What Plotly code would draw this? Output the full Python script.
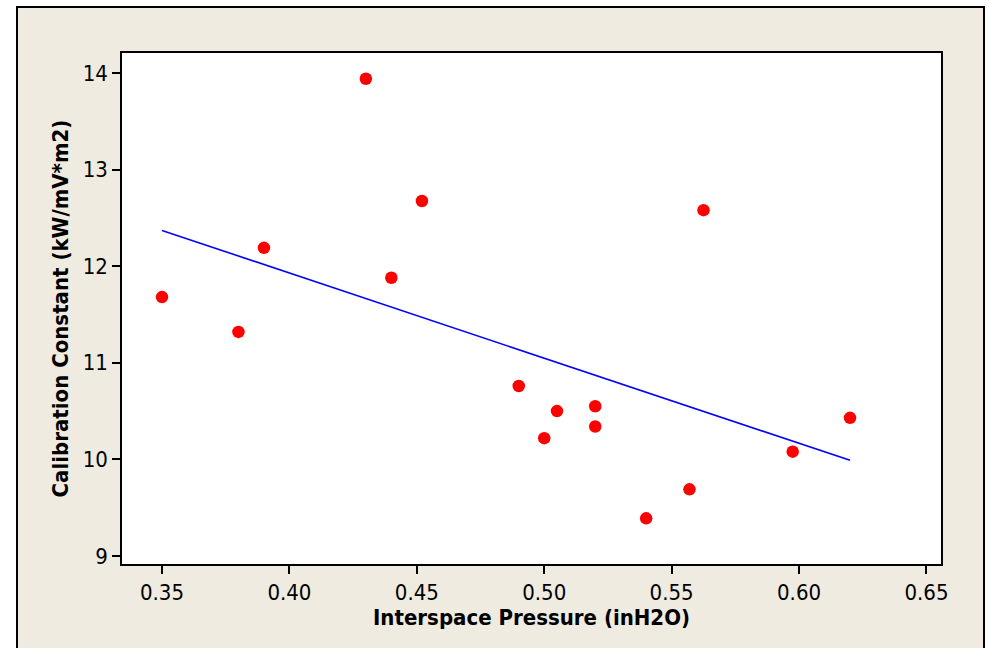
import plotly.graph_objects as go

# Data
pressure = [0.35, 0.38, 0.39, 0.43, 0.44, 0.452, 0.49, 0.50, 0.505, 0.52, 0.52,
            0.54, 0.557, 0.5625, 0.5975, 0.62]
calib = [11.68, 11.32, 12.19, 13.94, 11.88, 12.675, 10.76, 10.22, 10.50, 10.55, 10.34,
         9.39, 9.69, 12.58, 10.08, 10.43]

fit_x = [0.35, 0.62]
fit_y = [12.37, 9.99]

x_ticks = [0.35, 0.40, 0.45, 0.50, 0.55, 0.60, 0.65]
x_tick_labels = ["0.35", "0.40", "0.45", "0.50", "0.55", "0.60", "0.65"]
y_ticks = [9, 10, 11, 12, 13, 14]

FONT = "DejaVu Sans Condensed"
FS = 22

fig = go.Figure()
fig.add_trace(go.Scatter(x=fit_x, y=fit_y, mode="lines",
                         line=dict(color="#0000FF", width=1.6), showlegend=False))
fig.add_trace(go.Scatter(x=pressure, y=calib, mode="markers",
                         marker=dict(color="#FF0000", size=12.5, line=dict(width=0)),
                         showlegend=False))

fig.update_layout(
    width=990, height=648,
    margin=dict(l=122, r=49, t=53, b=84),
    paper_bgcolor="white",
    plot_bgcolor="white",
    font=dict(family=FONT, color="black", size=FS),
    shapes=[
        dict(type="rect", xref="paper", yref="paper", x0=-0.1282, x1=1.0525,
             y0=-0.2, y1=1.09, fillcolor="#EFEBE1", line=dict(color="black", width=2),
             layer="below"),
        dict(type="rect", xref="paper", yref="paper", x0=0, x1=1, y0=0, y1=1,
             fillcolor="white", line=dict(width=0), layer="below"),
    ],
)
fig.update_xaxes(
    range=[0.3343, 0.6557], tickvals=x_ticks, ticktext=x_tick_labels,
    showgrid=False, zeroline=False, showline=True, linecolor="black", linewidth=1.5,
    mirror=True, ticks="outside", ticklen=8, tickwidth=1.5, tickcolor="black",
    tickfont=dict(family=FONT, size=FS),
    title=dict(text="<b>Interspace Pressure (inH2O)</b>", font=dict(family=FONT, size=FS),
               standoff=5),
)
fig.update_yaxes(
    range=[8.917, 14.207], tickvals=y_ticks,
    showgrid=False, zeroline=False, showline=True, linecolor="black", linewidth=1.5,
    mirror=True, ticks="outside", ticklen=8, tickwidth=1.5, tickcolor="black",
    tickfont=dict(family=FONT, size=FS),
    title=dict(text="<b>Calibration Constant (kW/mV*m2)</b>", font=dict(family=FONT, size=FS),
               standoff=8),
)

fig.write_html("out.html")
